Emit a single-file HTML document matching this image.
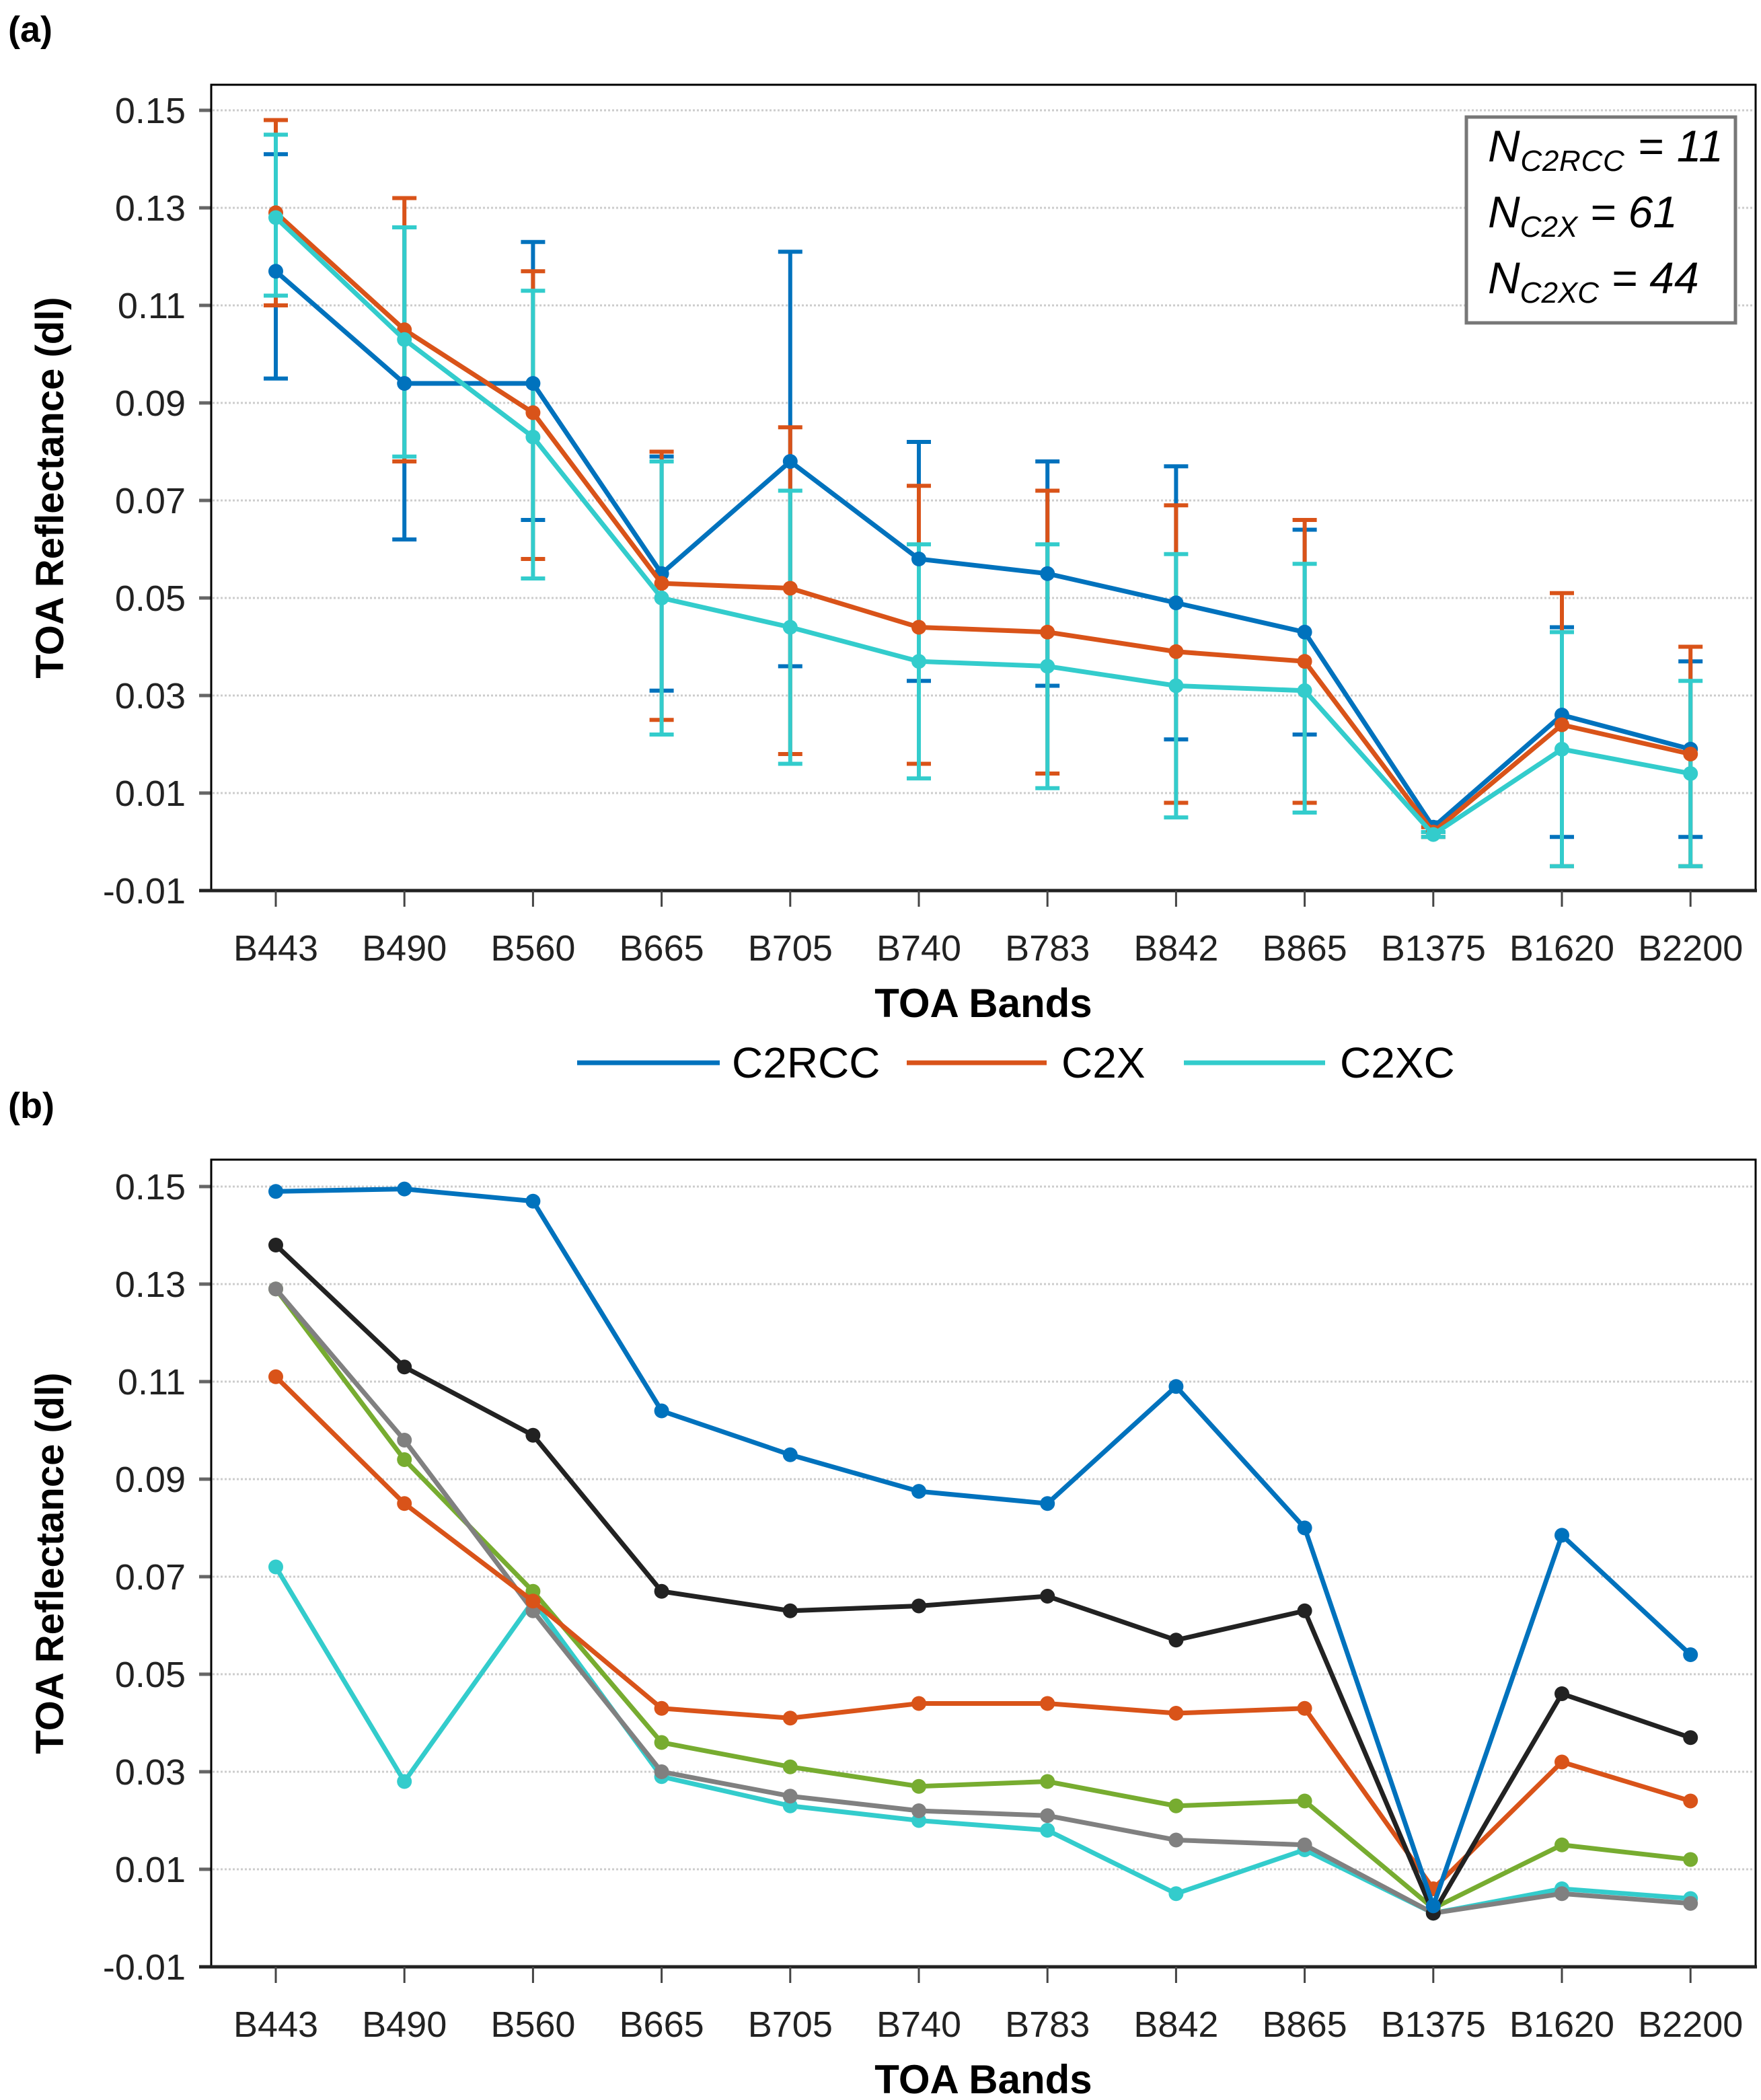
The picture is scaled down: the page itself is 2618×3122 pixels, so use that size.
<!DOCTYPE html>
<html><head><meta charset="utf-8"><style>
html,body{margin:0;padding:0;background:#fff}
svg{display:block;font-family:"Liberation Sans",sans-serif}
</style></head><body>
<svg id="chart" width="2618" height="3122" viewBox="0 0 2618 3122" xmlns="http://www.w3.org/2000/svg">
<text x="12" y="62" font-size="54" font-weight="bold">(a)</text>
<text x="12" y="1662" font-size="54" font-weight="bold">(b)</text>
<g id="pa"></g>
<g id="pb"></g>
<g>
<rect x="2180" y="174" width="400" height="306" fill="#fff" stroke="#777" stroke-width="5"/>
<text x="2212" y="240" font-size="66" font-style="italic" textLength="350">N<tspan font-size="44" dy="14">C2RCC</tspan><tspan dy="-14"> = 11</tspan></text>
<text x="2212" y="338" font-size="66" font-style="italic">N<tspan font-size="44" dy="14">C2X</tspan><tspan dy="-14"> = 61</tspan></text>
<text x="2212" y="436" font-size="66" font-style="italic">N<tspan font-size="44" dy="14">C2XC</tspan><tspan dy="-14"> = 44</tspan></text>
</g>
<g>
<line x1="858" y1="1580" x2="1070" y2="1580" stroke="#0072BD" stroke-width="7"/>
<text x="1088" y="1602" font-size="64">C2RCC</text>
<line x1="1348" y1="1580" x2="1556" y2="1580" stroke="#D95319" stroke-width="7"/>
<text x="1578" y="1602" font-size="64">C2X</text>
<line x1="1760" y1="1580" x2="1970" y2="1580" stroke="#33CCCC" stroke-width="7"/>
<text x="1992" y="1602" font-size="64">C2XC</text>
</g>
</svg>
<script>
const bands=["B443","B490","B560","B665","B705","B740","B783","B842","B865","B1375","B1620","B2200"];
const yTicks=[0.15,0.13,0.11,0.09,0.07,0.05,0.03,0.01,-0.01];
const yTickLabels=["0.15","0.13","0.11","0.09","0.07","0.05","0.03","0.01","-0.01"];
const aC2RCC=[0.117,0.094,0.094,0.055,0.078,0.058,0.055,0.049,0.043,0.003,0.026,0.019];
const aC2RCCHi=[0.141,0.126,0.123,0.079,0.121,0.082,0.078,0.077,0.064,0.004,0.044,0.037];
const aC2RCCLo=[0.095,0.062,0.066,0.031,0.036,0.033,0.032,0.021,0.022,0.002,0.001,0.001];
const aC2X=[0.129,0.105,0.088,0.053,0.052,0.044,0.043,0.039,0.037,0.002,0.024,0.018];
const aC2XHi=[0.148,0.132,0.117,0.080,0.085,0.073,0.072,0.069,0.066,0.003,0.051,0.040];
const aC2XLo=[0.110,0.078,0.058,0.025,0.018,0.016,0.014,0.008,0.008,0.001,-0.005,-0.005];
const aC2XC=[0.128,0.103,0.083,0.050,0.044,0.037,0.036,0.032,0.031,0.0015,0.019,0.014];
const aC2XCHi=[0.145,0.126,0.113,0.078,0.072,0.061,0.061,0.059,0.057,0.002,0.043,0.033];
const aC2XCLo=[0.112,0.079,0.054,0.022,0.016,0.013,0.011,0.005,0.006,0.001,-0.005,-0.005];
const bBlue=[0.149,0.1495,0.147,0.104,0.095,0.0875,0.085,0.109,0.080,0.0025,0.0785,0.054];
const bBlack=[0.138,0.113,0.099,0.067,0.063,0.064,0.066,0.057,0.063,0.001,0.046,0.037];
const bOrange=[0.111,0.085,0.065,0.043,0.041,0.044,0.044,0.042,0.043,0.006,0.032,0.024];
const bGreen=[0.129,0.094,0.067,0.036,0.031,0.027,0.028,0.023,0.024,0.002,0.015,0.012];
const bGray=[0.129,0.098,0.063,0.030,0.025,0.022,0.021,0.016,0.015,0.001,0.005,0.003];
const bCyan=[0.072,0.028,0.065,0.029,0.023,0.020,0.018,0.005,0.014,0.001,0.006,0.004];

const NS="http://www.w3.org/2000/svg";
function mk(p,t,a){const e=document.createElementNS(NS,t);for(const k in a)e.setAttribute(k,a[k]);p.appendChild(e);return e;}
const xOf=i=>410+i*191.2;
function panel(g,top,bottom,y15){
  const yOf=v=>y15+(0.15-v)/0.02*((bottom-y15)/8);
  for(let i=0;i<yTicks.length;i++){
    const y=yOf(yTicks[i]);
    if(i<yTicks.length-1){const gl=mk(g,'line',{x1:316,x2:2608,y1:y,y2:y,stroke:'#ccc','stroke-width':3,'stroke-dasharray':'3 3'});
    
    }
    mk(g,'line',{x1:296,x2:314,y1:y,y2:y,stroke:'#666','stroke-width':5});
    const t=mk(g,'text',{x:276,y:y+19,'font-size':54,'text-anchor':'end',fill:'#222'});
    
    
    t.textContent=yTickLabels[i];
  }
  const fr=mk(g,'rect',{x:314,y:top,width:2296,height:bottom-top,fill:'none',stroke:'#000','stroke-width':3});
  
  
  mk(g,'line',{x1:296,x2:2612,y1:bottom,y2:bottom,stroke:'#222','stroke-width':5});
  bands.forEach((b,i)=>{
    mk(g,'line',{x1:xOf(i),x2:xOf(i),y1:bottom,y2:bottom+24,stroke:'#444','stroke-width':3});
    const t=mk(g,'text',{x:xOf(i),y:bottom+104,'font-size':54,'text-anchor':'middle',fill:'#222'});
    
    
    t.textContent=b;
  });
  const xl=mk(g,'text',{x:1462,y:bottom+188,'font-size':60,'font-weight':'bold','text-anchor':'middle'});
  
  
  xl.textContent='TOA Bands';
  const cy=(top+bottom)/2;
  const yl=mk(g,'text',{x:0,y:0,'font-size':58,'font-weight':'bold','text-anchor':'middle',transform:`translate(94,${cy}) rotate(-90)`});
  
  
  yl.textContent='TOA Reflectance (dl)';
  return yOf;
}
function series(g,yOf,vals,color,name){
  const pl=mk(g,'polyline',{points:vals.map((v,i)=>xOf(i)+','+yOf(v)).join(' '),fill:'none',stroke:color,'stroke-width':7,'stroke-linejoin':'round'});
  
  
  vals.forEach((v,i)=>{const c=mk(g,'circle',{cx:xOf(i),cy:yOf(v),r:11,fill:color});
  
  });
}
function errs(g,yOf,hi,lo,color,name){
  hi.forEach((h,i)=>{const x=xOf(i);
    const e=mk(g,'path',{d:`M${x},${yOf(h)}V${yOf(lo[i])}M${x-18},${yOf(h)}H${x+18}M${x-18},${yOf(lo[i])}H${x+18}`,stroke:color,'stroke-width':6,fill:'none'});
    
    });
}
const ga=document.getElementById('pa');
const ya=panel(ga,126,1324,164);
errs(ga,ya,aC2RCCHi,aC2RCCLo,'#0072BD','c2rcc');
errs(ga,ya,aC2XHi,aC2XLo,'#D95319','c2x');
errs(ga,ya,aC2XCHi,aC2XCLo,'#33CCCC','c2xc');
series(ga,ya,aC2RCC,'#0072BD','c2rcc');
series(ga,ya,aC2X,'#D95319','c2x');
series(ga,ya,aC2XC,'#33CCCC','c2xc');
const gb=document.getElementById('pb');
const yb=panel(gb,1724,2924,1764);
series(gb,yb,bCyan,'#33CCCC','cyan-series');
series(gb,yb,bGreen,'#77AC30','green-series');
series(gb,yb,bGray,'#808080','gray-series');
series(gb,yb,bOrange,'#D95319','orange-series');
series(gb,yb,bBlack,'#222222','black-series');
series(gb,yb,bBlue,'#0072BD','blue-series');
</script>
</body></html>
